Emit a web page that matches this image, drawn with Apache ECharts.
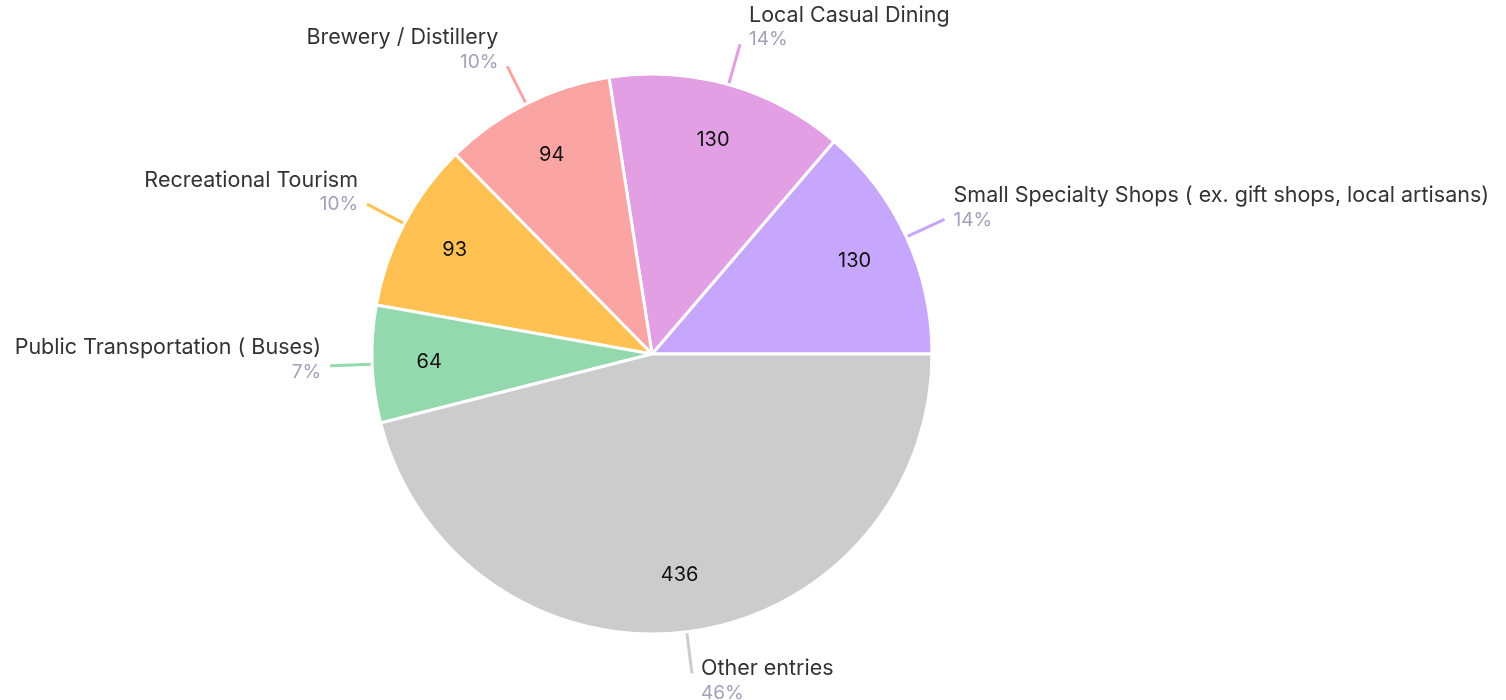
<!DOCTYPE html>
<html>
<head>
<meta charset="utf-8">
<script src="https://cdn.jsdelivr.net/npm/echarts@6/dist/echarts.min.js"></script>
<style>
  html, body { margin: 0; padding: 0; background: #fff; }
  #chart { width: 1506px; height: 700px; }
</style>
</head>
<body>
<div id="chart"></div>
<script>
// data
var categories = [
  'Small Specialty Shops ( ex. gift shops, local artisans)',
  'Local Casual Dining',
  'Brewery / Distillery',
  'Recreational Tourism',
  'Public Transportation ( Buses)',
  'Other entries'
];
var values = [130, 130, 94, 93, 64, 436];
var colors = ['#c6a7fd', '#e29fe4', '#fba4a4', '#ffc152', '#93d9ad', '#cccccc'];

var total = values.reduce(function (a, b) { return a + b; }, 0);

// outer label: name on top, percent below. shift the block up for
// upper slices and down for lower ones (like the original)
var acc = 0;
var outerData = categories.map(function (name, i) {
  var mid = (acc + values[i] / 2) / total * 360;
  acc += values[i];
  var s = Math.sin(mid * Math.PI / 180);
  var pad = [0, 0, 12, 0];
  if (s > 0.6) pad = [0, 0, 34, 0];
  else if (s > 0.3) pad = [0, 0, 24, 0];
  else if (s < -0.3) pad = [14, 0, 0, 0];
  return {
    name: name,
    value: values[i],
    itemStyle: { color: colors[i] },
    labelLine: { lineStyle: { color: colors[i] } },
    label: { padding: pad }
  };
});

var innerData = categories.map(function (name, i) {
  return { name: name, value: values[i] };
});

var chart = echarts.init(document.getElementById('chart'));
chart.setOption({
  animation: false,
  series: [
    {
      type: 'pie',
      center: [652, 354],
      radius: [0, 280],
      startAngle: 0,
      clockwise: false,
      avoidLabelOverlap: false,
      itemStyle: { borderColor: '#fff', borderWidth: 3 },
      label: {
        show: true,
        position: 'outside',
        distanceToLabelLine: 9,
        fontFamily: 'Inter',
        formatter: function (p) {
          return '{n|' + p.name + '}\n{p|' + Math.round(p.percent) + '%}';
        },
        rich: {
          n: { fontSize: 21.5, color: '#333', lineHeight: 25, fontFamily: 'Inter' },
          p: { fontSize: 19, color: '#a2a1ba', lineHeight: 24, fontFamily: 'Inter' }
        }
      },
      labelLine: {
        show: true,
        length: 42,
        length2: 0,
        smooth: false,
        lineStyle: { width: 3 }
      },
      data: outerData
    },
    {
      // transparent ring, only used to place the value labels
      type: 'pie',
      center: [652, 354],
      radius: [160, 280],
      startAngle: 0,
      clockwise: false,
      silent: true,
      itemStyle: { color: 'transparent', borderWidth: 0 },
      label: {
        show: true,
        position: 'inside',
        color: '#111',
        fontSize: 20,
        fontFamily: 'Inter',
        formatter: '{c}'
      },
      labelLine: { show: false },
      data: innerData
    }
  ]
});
</script>
</body>
</html>
